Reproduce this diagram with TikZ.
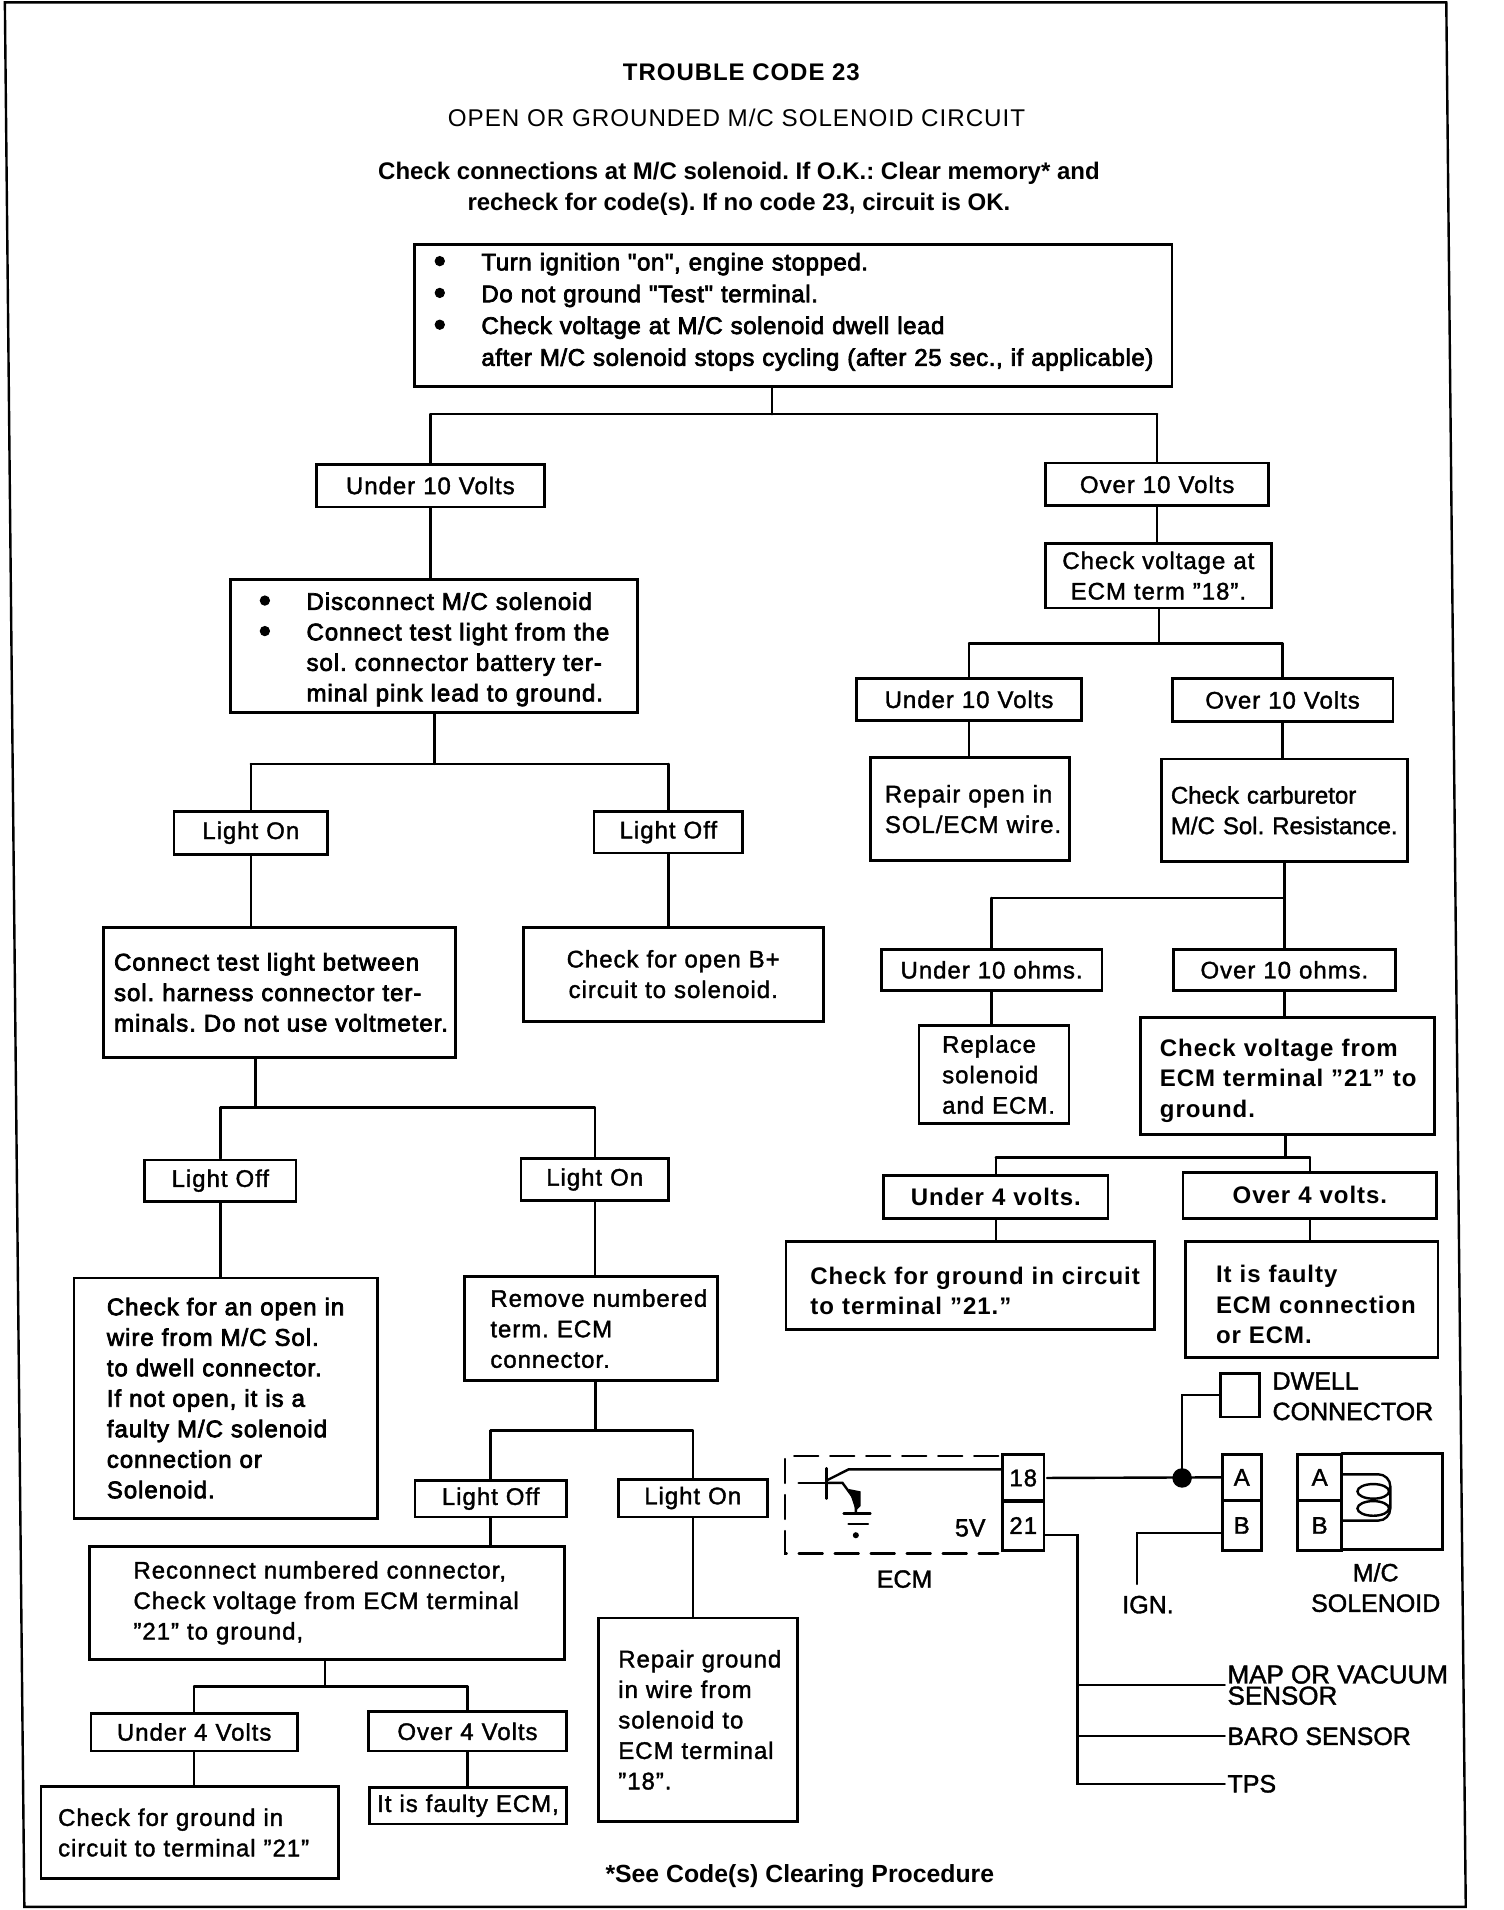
\documentclass[tikz,border=0pt]{standalone}
\usepackage{fontspec}
\setmainfont{Liberation Sans}[LetterSpace=4,UprightFeatures={FakeBold=1.5}]
\usetikzlibrary{arrows.meta}
\newfontfamily\medfont{Liberation Sans}[LetterSpace=4,FakeBold=3]
\newfontfamily\startfont{Liberation Sans}[LetterSpace=2.5,FakeBold=3]
\newfontfamily\wirefont{Liberation Sans}[UprightFeatures={FakeBold=1.5}]
\newfontfamily\thinfont{Liberation Sans}[LetterSpace=4]
\newfontfamily\tightfont{Liberation Sans Bold}
\newcommand{\bul}{\makebox[23.8pt][l]{\fontsize{17}{15}\selectfont\raisebox{-1pt}{\textbullet}}}
\frenchspacing
\begin{document}
\begin{tikzpicture}[%
    x=0.6087pt,
    y=-0.6092pt,
    line cap=round,
    box/.style={draw, line width=1.4pt, inner ysep=0pt, inner xsep=1.22pt, align=center,
        font=\fontsize{12}{15.25}\selectfont},
    dims/.style 2 args={minimum width=#1*0.61pt, minimum height=#2*0.61pt, text width=(#1-4)*0.61pt},
    lpad/.style={align=left, execute at begin node={\leftskip=#1\dimexpr0.61pt\relax}},
    drop/.style={execute at begin node={\rule{0pt}{#1}}},
    lift/.style={execute at end node={\rule[-#1]{0pt}{#1}}},
    heavy/.append style={font=\bfseries\fontsize{12}{15.25}\selectfont},
    med/.style={font=\medfont\fontsize{12}{15.25}\selectfont},
    txt/.style={inner sep=0pt, align=center, font=\fontsize{12}{15.25}\selectfont},
    wtxt/.style={inner sep=1.2pt, align=left, font=\wirefont\fontsize{12.5}{15.25}\selectfont},
    wire/.style={line width=1.2pt}]
    \useasboundingbox (0,0) rectangle (1235.4,1567.6);

    % page frame
    \coordinate (frame_a) at (4,2);
    \coordinate (frame_b) at (1188,2);
    \coordinate (frame_c) at (1204,1565);
    \coordinate (frame_d) at (20,1565);
    \draw[wire] (frame_a) -- (frame_b) -- (frame_c) -- (frame_d) -- cycle;

    \node[txt, font=\bfseries\fontsize{12}{15}\selectfont] (title) at (609,59) {TROUBLE CODE 23};
    \node[txt, font=\thinfont\fontsize{12.1}{15}\selectfont] (subtitle) at (605,97) {OPEN OR GROUNDED M/C SOLENOID CIRCUIT};
    \node[txt, font=\tightfont\fontsize{12}{15.25}\selectfont] (intro) at (607,155) {Check connections at M/C solenoid. If O.K.: Clear memory* and\\recheck for code(s). If no code 23, circuit is OK.};

    % main branch
    \node[box, med, dims={621}{116}, lpad=14, lift=6.2pt, font=\startfont\fontsize{12}{15.9}\selectfont] (start) at (651.5,259) {\bul Turn ignition "on", engine stopped.\\\bul Do not ground "Test" terminal.\\\bul Check voltage at M/C solenoid dwell lead\\\hspace*{23.8pt}after M/C solenoid stops cycling (after 25 sec., if applicable)};
    \node[box, dims={187}{35}] (under_1) at (353.5,398.5) {Under 10 Volts};
    \node[box, dims={183}{35}] (over_1) at (950.5,397.5) {Over 10 Volts};
    \node[box, dims={185}{53}] (check_ecm) at (951.5,472.5) {Check voltage at\\ECM term "18".};
    \node[box, med, dims={333}{109}, lpad=21, drop=11.7pt] (disconnect) at (356.5,530.5) {\bul Disconnect M/C solenoid\\\bul Connect test light from the\\\hspace*{23.8pt}sol. connector battery ter-\\\hspace*{23.8pt}minal pink lead to ground.};

    % right side
    \node[box, dims={184}{34}] (under_2) at (796,574) {Under 10 Volts};
    \node[box, dims={181}{35}] (over_2) at (1053.5,574.5) {Over 10 Volts};
    \node[box, dims={163}{84}, lpad=10] (repair_open) at (796.5,664) {Repair open in\\SOL/ECM wire.};
    \node[box, dims={202}{84}, lpad=6, font=\wirefont\fontsize{12}{15.25}\selectfont] (check_carb) at (1055,665) {Check carburetor\\M/C Sol. Resistance.};
    \node[box, dims={181}{34}] (under_ohm) at (814.5,796) {Under 10 ohms.};
    \node[box, dims={182}{34}] (over_ohm) at (1055,796) {Over 10 ohms.};
    \node[box, dims={123}{80}, lpad=17] (replace) at (816.5,882) {Replace\\solenoid\\and ECM.};
    \node[box, heavy, dims={241}{96}, lpad=14, drop=13.6pt] (check_21) at (1057.5,883) {Check voltage from\\ECM terminal "21" to\\ground.};
    \node[box, heavy, dims={184}{35}] (under_4a) at (818,982.5) {Under 4 volts.};
    \node[box, heavy, dims={208}{38}] (over_4a) at (1076,981) {Over 4 volts.};
    \node[box, heavy, dims={302}{72}, lpad=18, drop=14pt] (check_gnd_a) at (797,1055) {Check for ground in circuit\\to terminal "21."};
    \node[box, heavy, dims={207}{95}, lpad=23, drop=14pt] (faulty_a) at (1077.5,1066.5) {It is faulty\\ECM connection\\or ECM.};

    % left side
    \node[box, dims={126}{35}] (on_1) at (206,683.5) {Light On};
    \node[box, dims={122}{34}] (off_1) at (549,683) {Light Off};
    \node[box, med, dims={289}{107}, lpad=7] (connect) at (229.5,814.5) {Connect test light between\\sol. harness connector ter-\\minals. Do not use voltmeter.};
    \node[box, dims={246}{77}] (check_open) at (553,799.5) {Check for open B+\\circuit to solenoid.};
    \node[box, dims={124}{34}] (off_2) at (181,969) {Light Off};
    \node[box, dims={121}{34}] (on_2) at (488.5,968) {Light On};
    \node[box, med, dims={249}{197}, lpad=25] (check_wire) at (185.5,1147.5) {Check for an open in\\wire from M/C Sol.\\to dwell connector.\\If not open, it is a\\faulty M/C solenoid\\connection or\\Solenoid.};
    \node[box, dims={207}{85}, lpad=19] (remove) at (485.5,1090.5) {Remove numbered\\term. ECM\\connector.};
    \node[box, dims={124}{30}] (off_3) at (403,1230) {Light Off};
    \node[box, dims={122}{31}] (on_3) at (569,1229.5) {Light On};
    \node[box, dims={389}{93}, lpad=34] (reconnect) at (268.5,1315.5) {Reconnect numbered connector,\\Check voltage from ECM terminal\\"21" to ground,};
    \node[box, dims={163}{167}, lpad=14] (repair_gnd) at (573.5,1411.5) {Repair ground\\in wire from\\solenoid to\\ECM terminal\\"18".};
    \node[box, dims={169}{31}] (under_4b) at (159.5,1421.5) {Under 4 Volts};
    \node[box, dims={162}{32}] (over_4b) at (384,1421) {Over 4 Volts};
    \node[box, dims={244}{76}, lpad=12] (check_gnd_b) at (156,1504) {Check for ground in\\circuit to terminal "21"};
    \node[box, dims={161}{30}, lpad=4] (faulty_b) at (384.5,1482) {It is faulty ECM,};
    \node[txt, font=\tightfont\fontsize{12.4}{15}\selectfont] (footnote) at (657,1540) {*See Code(s) Clearing Procedure};

    % branch points
    \coordinate (bus_start) at (634,340);
    \coordinate (bus_ecm) at (952,528);
    \coordinate (bus_carb) at (1055,737);
    \coordinate (bus_21) at (1056,950);
    \coordinate (bus_dis) at (357,627);
    \coordinate (bus_conn) at (210,909);
    \coordinate (bus_rem) at (489,1174);
    \coordinate (bus_rec) at (267,1384);

    \path[wire]
              (bus_start |- start.south) edge (bus_start)
              (bus_start -| under_1.north) edge (bus_start -| over_1.north)
              (under_1.north) edge (under_1.north |- bus_start)
              (over_1.north) edge (over_1.north |- bus_start)
              (under_1.south) edge (under_1.south |- disconnect.north)
              (over_1.south) edge (over_1.south |- check_ecm.north)

              (bus_ecm |- check_ecm.south) edge (bus_ecm)
              (bus_ecm -| under_2.north) edge (bus_ecm -| over_2.north)
              (under_2.north) edge (under_2.north |- bus_ecm)
              (over_2.north) edge (over_2.north |- bus_ecm)
              (under_2.south) edge (under_2.south |- repair_open.north)
              (over_2.south) edge (over_2.south |- check_carb.north)

              (check_carb.south) edge (over_ohm.north)
              (bus_carb -| under_ohm.north) edge (bus_carb)
              (under_ohm.north) edge (under_ohm.north |- bus_carb)
              (under_ohm.south) edge (under_ohm.south |- replace.north)
              (over_ohm.south) edge (over_ohm.south |- check_21.north)

              (bus_21 |- check_21.south) edge (bus_21)
              (bus_21 -| under_4a.north) edge (bus_21 -| over_4a.north)
              (under_4a.north) edge (under_4a.north |- bus_21)
              (over_4a.north) edge (over_4a.north |- bus_21)
              (under_4a.south) edge (under_4a.south |- check_gnd_a.north)
              (over_4a.south) edge (over_4a.south |- faulty_a.north)

              (bus_dis |- disconnect.south) edge (bus_dis)
              (bus_dis -| on_1.north) edge (bus_dis -| off_1.north)
              (on_1.north) edge (on_1.north |- bus_dis)
              (off_1.north) edge (off_1.north |- bus_dis)
              (on_1.south) edge (on_1.south |- connect.north)
              (off_1.south) edge (off_1.south |- check_open.north)

              (bus_conn |- connect.south) edge (bus_conn)
              (bus_conn -| off_2.north) edge (bus_conn -| on_2.north)
              (off_2.north) edge (off_2.north |- bus_conn)
              (on_2.north) edge (on_2.north |- bus_conn)
              (off_2.south) edge (off_2.south |- check_wire.north)
              (on_2.south) edge (on_2.south |- remove.north)

              (bus_rem |- remove.south) edge (bus_rem)
              (bus_rem -| off_3.north) edge (bus_rem -| on_3.north)
              (off_3.north) edge (off_3.north |- bus_rem)
              (on_3.north) edge (on_3.north |- bus_rem)
              (off_3.south) edge (off_3.south |- reconnect.north)
              (on_3.south) edge (on_3.south |- repair_gnd.north)

              (bus_rec |- reconnect.south) edge (bus_rec)
              (bus_rec -| under_4b.north) edge (bus_rec -| over_4b.north)
              (under_4b.north) edge (under_4b.north |- bus_rec)
              (over_4b.north) edge (over_4b.north |- bus_rec)
              (under_4b.south) edge (under_4b.south |- check_gnd_b.north)
              (over_4b.south) edge (over_4b.south |- faulty_b.north);

    % wiring
    \node[box, dims={34}{38}, inner xsep=0pt] (pin_18) at (840.5,1213) {18};
    \node[box, dims={34}{41}, inner xsep=0pt] (pin_21) at (840.5,1252) {21};
    \node[box, dims={32}{36}, inner xsep=0pt] (dwell) at (1018.5,1145) {};
    \node[box, dims={32}{38}, inner xsep=0pt] (pin_a) at (1020,1212.5) {A};
    \node[box, dims={32}{41}, inner xsep=0pt] (pin_b) at (1020,1252) {B};
    \node[box, dims={36}{38}, inner xsep=0pt] (sol_a) at (1084,1212.5) {A};
    \node[box, dims={36}{41}, inner xsep=0pt] (sol_b) at (1084,1252) {B};
    \node[wtxt, anchor=west] (dwell_label) at (1043,1146) {DWELL\\CONNECTOR};
    \node[wtxt] (five_v) at (797,1254) {5V};
    \node[wtxt] (ecm_label) at (743,1296) {ECM};
    \node[wtxt] (ign_label) at (943,1317) {IGN.};
    \node[wtxt, align=center] (sol_label) at (1130,1303) {M/C\\SOLENOID};
    \node[wtxt, anchor=west, font=\wirefont\fontsize{13}{10.6}\selectfont] (map_label) at (1006,1383) {MAP OR VACUUM\\SENSOR};
    \node[wtxt, anchor=west] (baro_label) at (1006,1425) {BARO SENSOR};
    \node[wtxt, anchor=west] (tps_label) at (1006,1464) {TPS};

    \coordinate (ecm_a) at (820,1195);
    \coordinate (ecm_b) at (645,1195);
    \coordinate (ecm_c) at (645,1275);
    \coordinate (ecm_d) at (820,1275);
    \draw[wire, dash pattern=on 12pt off 6pt] (ecm_a) -- (ecm_b) -- (ecm_c) -- (ecm_d);

    \coordinate (wire_18) at (860,1213);
    \coordinate (tap_dwell) at (971,1213);
    \coordinate (wire_21) at (885,1260);
    \coordinate (wire_ign) at (934,1258);
    \coordinate (ign_end) at (934,1300);
    \draw[wire] (wire_18) -- (pin_a.west);
    \fill (tap_dwell) circle (8);
    \draw[wire] (tap_dwell) |- (dwell.west);
    \draw[wire] (pin_b.west |- wire_ign) -- (wire_ign) -- (ign_end);
    \draw[wire] (pin_21.east |- wire_21) -- (wire_21) |- (tps_label.west);
    \draw[wire] (wire_21 |- map_label.west) -- (map_label.west);
    \draw[wire] (wire_21 |- baro_label.west) -- (baro_label.west);

    % transistor and ground
    \draw[wire] (656,1217) -- (679,1217);
    \draw[wire] (679,1205) -- (679,1230);
    \draw[wire] (679,1215) -- (697,1206) -- (pin_18.west |- 0,1206);
    \draw[wire] (679,1217) -- (692,1217) -- (703,1232) -- (703,1242);
    \fill (697,1222) -- (707,1224) -- (707,1236) -- (703,1240) -- cycle;
    \draw[wire] (693,1242) -- (715,1242);
    \draw[wire] (697,1251) -- (713,1251);
    \fill (703,1260) circle (2.5);

    % solenoid winding
    \coordinate (coil_a) at (1102,1210);
    \coordinate (coil_b) at (1102,1248);
    \draw[wire, rounded corners=6pt] (coil_a) -- (1142,1210) -- (1142,1248) -- (coil_b);
    \draw[wire] (1128,1224) ellipse (13 and 6);
    \draw[wire] (1128,1238) ellipse (13 and 6);
    \coordinate (sol_c) at (1102,1193);
    \coordinate (sol_d) at (1185,1193);
    \coordinate (sol_e) at (1185,1272);
    \coordinate (sol_f) at (1102,1272);
    \draw[line width=1.4pt] (sol_c) -- (sol_d) -- (sol_e) -- (sol_f);
\end{tikzpicture}
\end{document}
